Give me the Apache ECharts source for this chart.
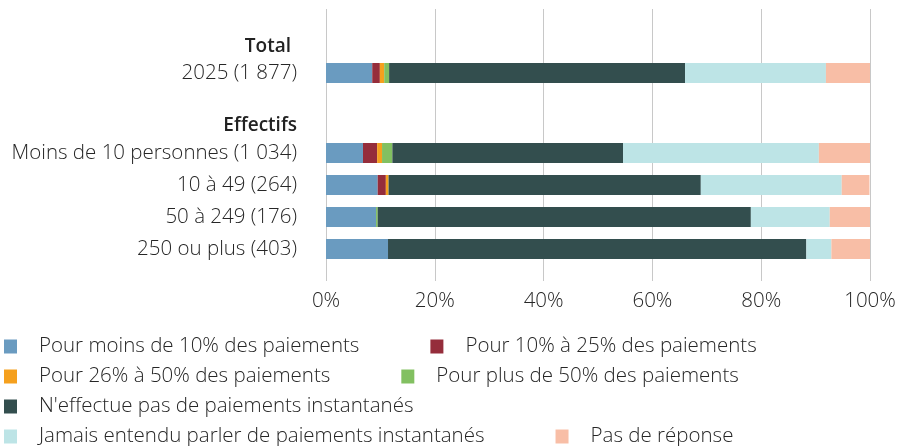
<!DOCTYPE html>
<html>
<head>
<meta charset="utf-8">
<script src="https://cdn.jsdelivr.net/npm/echarts@6/dist/echarts.min.js"></script>
<style>
  html, body { margin: 0; padding: 0; background: #fff; }
  #chart { width: 899px; height: 446px; }
</style>
</head>
<body>
<div id="chart"></div>
<script>
// rows, top to bottom (headers have no bar)
const categories = ['Total', '2025 (1 877)', 'Effectifs', 'Moins de 10 personnes (1 034)', '10 à 49 (264)', '50 à 249 (176)', '250 ou plus (403)']
const headers = ['Total', 'Effectifs']

const seriesNames = [
  'Pour moins de 10% des paiements',
  'Pour 10% à 25% des paiements',
  'Pour 26% à 50% des paiements',
  'Pour plus de 50% des paiements',
  "N'effectue pas de paiements instantanés",
  'Jamais entendu parler de paiements instantanés',
  'Pas de réponse'
]
const colors = ['#6a9bc0', '#952d3b', '#f5a01e', '#82c061', '#334e4e', '#bde4e6', '#f8bea6']

// values in %, one per row (null for header rows)
const lessThan10 = [null, 8.5, null, 6.8, 9.5, 9.2, 11.4]
const from10to25 = [null, 1.4, null, 2.6, 1.5, 0, 0]
const from26to50 = [null, 0.8, null, 0.9, 0.5, 0, 0]
const moreThan50 = [null, 0.9, null, 1.9, 0, 0.3, 0]
const noInstant = [null, 54.4, null, 42.4, 57.4, 68.6, 76.9]
const neverHeard = [null, 25.9, null, 36.0, 25.9, 14.5, 4.6]
const noAnswer = [null, 8.1, null, 9.4, 5.1, 7.4, 7.2]
const seriesValues = [lessThan10, from10to25, from26to50, moreThan50, noInstant, neverHeard, noAnswer]

const xTicks = [0, 20, 40, 60, 80, 100]

// layout: rows sit on a finer slot grid so the header gaps match
const slotCount = 18
const rowSlot = [2, 4, 7, 9, 11, 13, 15]

const slotLabels = new Array(slotCount).fill('')
rowSlot.forEach((s, i) => { slotLabels[s] = categories[i] })
const slotIds = slotLabels.map((_, i) => 's' + i)

const chart = echarts.init(document.getElementById('chart'))
const font = 'Open Sans'
const fs = 20.5
const txtColor = '#262626'

const option = {
  animation: false,
  textStyle: { fontFamily: font },
  grid: { left: 326, right: 29, top: 9, bottom: 165 },
  xAxis: {
    type: 'value',
    min: xTicks[0],
    max: xTicks[xTicks.length - 1],
    interval: 20,
    axisLine: { show: false },
    axisTick: { show: false },
    axisLabel: { formatter: '{value}%', fontSize: fs, color: txtColor, margin: 10, fontFamily: font, fontWeight: 300 },
    splitLine: { lineStyle: { color: '#c8c8c8', width: 1 } }
  },
  yAxis: {
    type: 'category',
    inverse: true,
    boundaryGap: false,
    data: slotIds,
    axisLine: { show: false },
    axisTick: { show: false },
    splitLine: { show: false },
    axisLabel: {
      interval: 0,
      margin: 29,
      fontSize: fs,
      color: txtColor,
      fontFamily: font,
      fontWeight: 300,
      formatter: (val, idx) => {
        const txt = slotLabels[idx]
        if (txt === 'Total') return '{t|' + txt + '}'
        if (headers.indexOf(txt) >= 0) return '{h|' + txt + '}'
        return txt
      },
      rich: {
        t: { fontWeight: 600, fontSize: 19, color: '#222', fontFamily: font, padding: [12, 6, 0, 0] },
        h: { fontWeight: 600, fontSize: 19, color: '#222', fontFamily: font, padding: [10, 0, 0, 0] }
      }
    }
  },
  legend: {
    left: -1,
    top: 331,
    width: 899,
    itemWidth: 13,
    itemHeight: 14,
    itemGap: 9,
    icon: 'rect',
    data: seriesNames,
    textStyle: { fontSize: fs, color: txtColor, fontFamily: font, fontWeight: 300, padding: [0, 62, 0, 17], lineHeight: 20 }
  },
  series: seriesNames.map((name, k) => {
    const data = new Array(slotCount).fill('-')
    rowSlot.forEach((s, i) => {
      if (seriesValues[k][i] !== null) data[s] = seriesValues[k][i]
    })
    return {
      name: name,
      type: 'bar',
      stack: 'total',
      barWidth: 20,
      itemStyle: { color: colors[k] },
      data: data
    }
  })
}

chart.setOption(option)
</script>
</body>
</html>
